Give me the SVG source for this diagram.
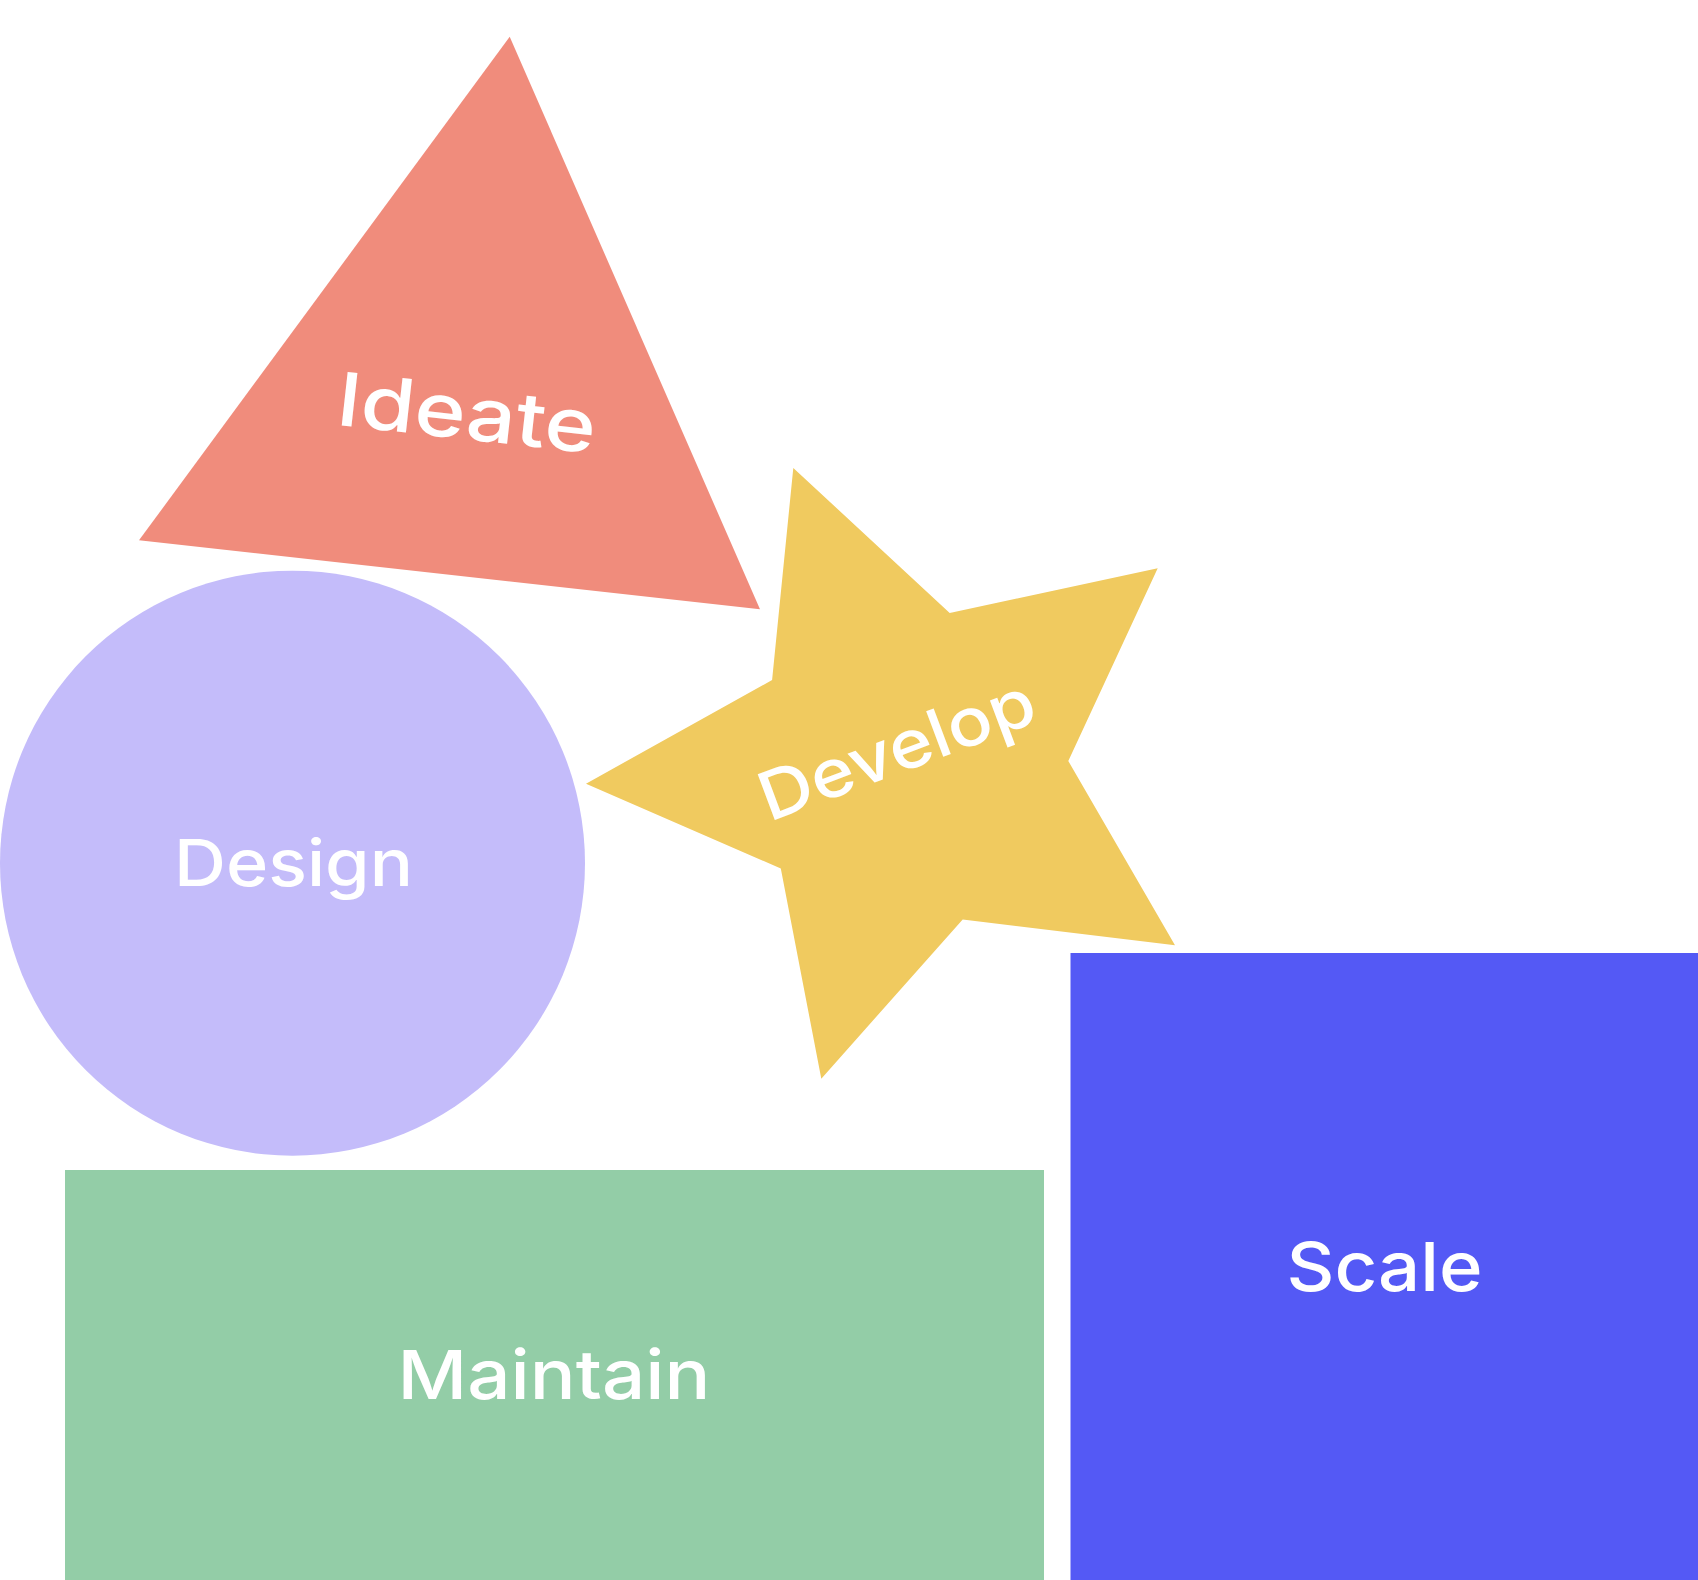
<svg xmlns="http://www.w3.org/2000/svg" width="1698" height="1580" viewBox="0 0 1698 1580">
<style>
.lbl{font-family:Inter,"Noto Sans","Liberation Sans",sans-serif;font-weight:500;fill:#ffffff;text-anchor:middle}
</style>
<rect width="1698" height="1580" fill="#ffffff"/>
<g id="ideate">
<polygon points="509.7,36.7 760,609.3 139,540.3" fill="#F08C7C"/>
<text class="lbl" font-size="74" textLength="260" lengthAdjust="spacingAndGlyphs" transform="translate(464,439) rotate(6.34)" x="0" y="0">Ideate</text>
</g>
<g id="develop">
<polygon points="793.3,468 949.7,612.9 1157.7,568.3 1068.3,761 1175,945.3 962.7,919.4 821.3,1078.7 780.8,868.5 586,783.7 772.1,680" fill="#F0CA5F"/>
<text class="lbl" font-size="67" textLength="290" lengthAdjust="spacingAndGlyphs" transform="translate(905,771.3) rotate(-20.5)" x="0" y="0">Develop</text>
</g>
<g id="design">
<circle cx="292.5" cy="863.2" r="292.5" fill="#C4BCFA"/>
<text class="lbl" font-size="65" textLength="239" lengthAdjust="spacingAndGlyphs" x="293.5" y="886">Design</text>
</g>
<g id="maintain">
<rect x="65" y="1170" width="979" height="410" fill="#93CDA7"/>
<text class="lbl" font-size="68" textLength="313" lengthAdjust="spacingAndGlyphs" x="554" y="1399">Maintain</text>
</g>
<g id="scale">
<rect x="1070.5" y="953" width="627.5" height="627" fill="#5459F5"/>
<text class="lbl" font-size="68" textLength="196" lengthAdjust="spacingAndGlyphs" x="1384.5" y="1291">Scale</text>
</g>
<g id="connectors"></g>
</svg>
